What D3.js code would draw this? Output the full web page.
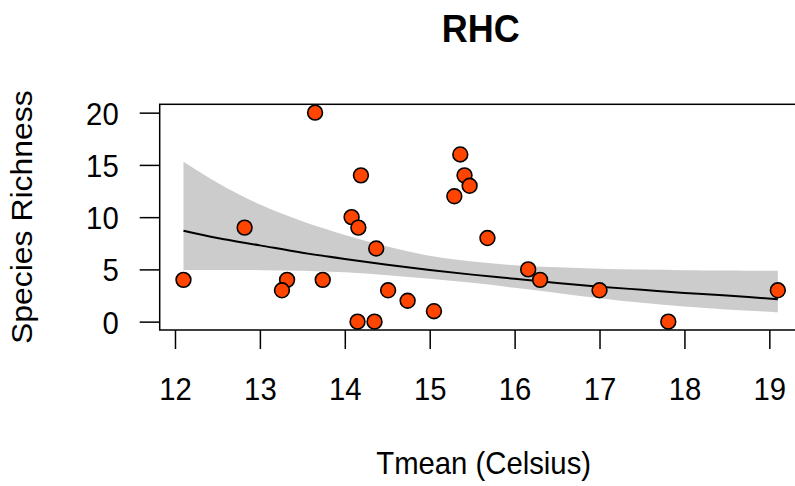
<!DOCTYPE html>
<html>
<head>
<meta charset="utf-8">
<script src="https://cdn.jsdelivr.net/npm/d3@7"></script>
<style>
  body { margin: 0; background: #fff; }
  svg { display: block; font-family: "Liberation Sans", Arial, sans-serif; }
</style>
</head>
<body>
<div id="chart"></div>
<script>
// observed sites: mean temperature vs species richness
const tmean = [12.10, 12.82, 13.32, 13.26, 13.65, 13.74, 14.08, 14.16, 14.19, 14.15,
               14.35, 14.37, 14.51, 14.74, 15.05, 15.29, 15.36, 15.41, 15.47, 15.68,
               16.16, 16.30, 17.00, 17.81, 19.10];
const richness = [4, 9, 4, 3, 20, 4, 10, 9, 14, 0,
                  0, 7, 3, 2, 1, 12, 16, 14, 13, 8,
                  5, 4, 3, 0, 3];

// fitted curve and confidence band
const fitX     = [12.1, 12.5, 13.0, 13.5, 14.0, 14.5, 15.0, 15.5, 16.0, 16.5, 17.0, 17.5, 18.0, 18.5, 19.1];
const fitY     = [8.7, 8.0, 7.3, 6.6, 6.0, 5.45, 4.95, 4.5, 4.1, 3.7, 3.35, 3.05, 2.75, 2.5, 2.15];
const fitUpper = [15.3, 13.3, 11.2, 9.6, 8.3, 7.2, 6.3, 5.75, 5.4, 5.2, 5.05, 4.98, 4.93, 4.89, 4.85];
const fitLower = [4.95, 4.95, 4.93, 4.88, 4.72, 4.45, 4.1, 3.72, 3.25, 2.75, 2.25, 1.8, 1.45, 1.17, 0.9];

const xTicks = [12, 13, 14, 15, 16, 17, 18, 19];
const yTicks = [0, 5, 10, 15, 20];

const width = 795, height = 486;
const fontSize = 29.3;
const stretch = 1.09; // the reference text is a bit taller than wide

const svg = d3.select('#chart')
  .append('svg')
  .attr('width', width)
  .attr('height', height);

const x = d3.scaleLinear().domain([11.82, 19.38]).range([159.7, 801.6]);
const y = d3.scaleLinear().domain([-0.8, 20.8]).range([330, 104.3]);

// confidence band
const band = fitX.map((d, i) => ({ x: d, lo: fitLower[i], hi: fitUpper[i] }));
svg.append('path')
  .datum(band)
  .attr('fill', '#cccccc')
  .attr('d', d3.area()
    .x(d => x(d.x))
    .y0(d => y(d.lo))
    .y1(d => y(d.hi))
    .curve(d3.curveCatmullRom));

// fitted line
svg.append('path')
  .datum(fitX.map((d, i) => [d, fitY[i]]))
  .attr('fill', 'none')
  .attr('stroke', '#000')
  .attr('stroke-width', 2)
  .attr('d', d3.line()
    .x(d => x(d[0]))
    .y(d => y(d[1]))
    .curve(d3.curveCatmullRom));

// points
svg.append('g')
  .selectAll('circle')
  .data(tmean.map((d, i) => [d, richness[i]]))
  .join('circle')
  .attr('cx', d => x(d[0]))
  .attr('cy', d => y(d[1]))
  .attr('r', 7.4)
  .attr('fill', '#ff4500')
  .attr('stroke', '#000')
  .attr('stroke-width', 1.6);

// box
svg.append('rect')
  .attr('x', x.range()[0])
  .attr('y', y.range()[1])
  .attr('width', x.range()[1] - x.range()[0])
  .attr('height', y.range()[0] - y.range()[1])
  .attr('fill', 'none')
  .attr('stroke', '#000')
  .attr('stroke-width', 1.5);

// axes
const xAxis = svg.append('g')
  .attr('transform', `translate(0,${y.range()[0]})`)
  .call(d3.axisBottom(x).tickValues(xTicks).tickSize(19).tickFormat(d3.format('d')));
const yAxis = svg.append('g')
  .attr('transform', `translate(${x.range()[0]},0)`)
  .call(d3.axisLeft(y).tickValues(yTicks).tickSize(20).tickFormat(d3.format('d')));

[xAxis, yAxis].forEach(g => {
  g.select('.domain').remove();
  g.selectAll('line').attr('stroke', '#000').attr('stroke-width', 1.5);
  g.selectAll('text')
    .attr('fill', '#000')
    .attr('x', null).attr('y', null).attr('dy', null)
    .style('font-family', '"Liberation Sans", Arial, sans-serif')
    .style('font-size', fontSize + 'px');
});
xAxis.selectAll('text')
  .attr('text-anchor', 'middle')
  .attr('transform', `translate(0,69.5) scale(1,${stretch})`);
yAxis.selectAll('text')
  .attr('text-anchor', 'end')
  .attr('transform', `translate(-41,11.4) scale(1,${stretch})`);

// titles
svg.append('text')
  .attr('transform', `translate(${(x.range()[0] + x.range()[1]) / 2},41.5) scale(1,${stretch})`)
  .attr('text-anchor', 'middle')
  .style('font-size', '36px')
  .style('font-weight', 'bold')
  .text('RHC');

svg.append('text')
  .attr('transform', `translate(${(x.range()[0] + x.range()[1]) / 2 + 3},474) scale(1,${stretch})`)
  .attr('text-anchor', 'middle')
  .style('font-size', fontSize + 'px')
  .text('Tmean (Celsius)');

svg.append('text')
  .attr('transform', `translate(32,${(y.range()[0] + y.range()[1]) / 2}) rotate(-90) scale(${stretch},1)`)
  .attr('text-anchor', 'middle')
  .style('font-size', fontSize + 'px')
  .text('Species Richness');
</script>
</body>
</html>
